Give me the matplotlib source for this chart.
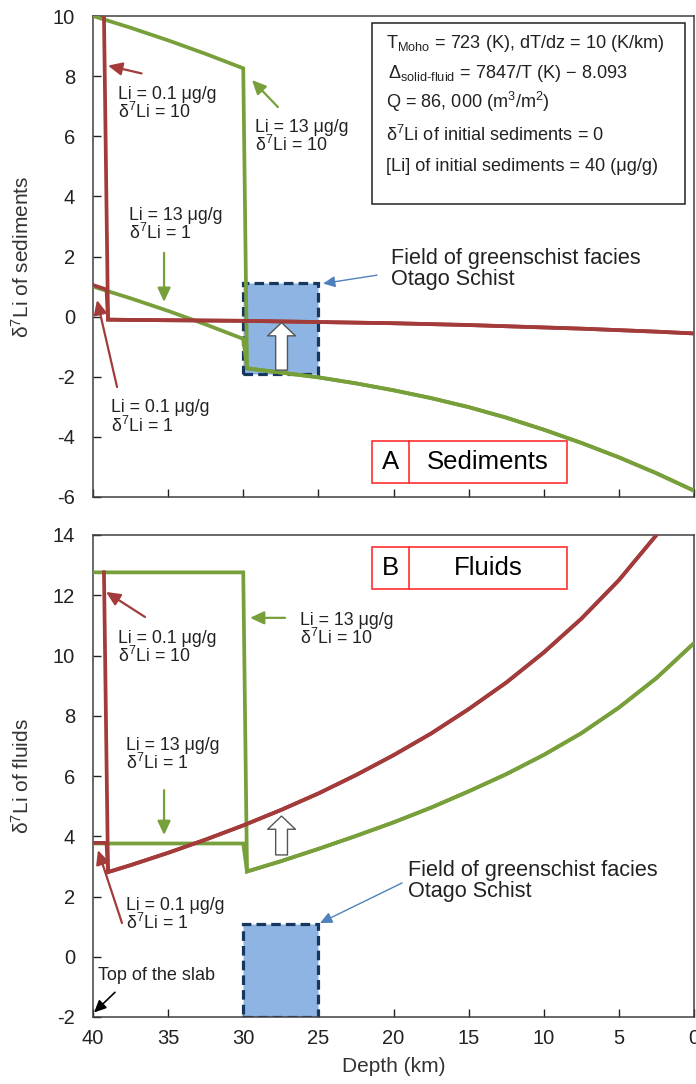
import matplotlib
matplotlib.use("Agg")
import matplotlib.pyplot as plt
from matplotlib.patches import Rectangle

plt.rcParams['font.family'] = ['Liberation Sans', 'DejaVu Sans']
plt.rcParams['mathtext.fontset'] = 'custom'
plt.rcParams['mathtext.rm'] = 'Liberation Sans'
plt.rcParams['mathtext.it'] = 'Liberation Sans:italic'
plt.rcParams['mathtext.bf'] = 'Liberation Sans:bold'
plt.rcParams['axes.unicode_minus'] = False

RED = '#A33B3B'
GREEN = '#77A03A'
BLUE_FILL = '#8DB4E2'
NAVY = '#17375E'
ARROW_BLUE = '#4F81BD'

# ---- data: depth (km) and d7Li values ----
# Li = 13 ug/g curves (green): before and after the 30 km step
green_head_depth = [40, 37.5, 35, 32.5, 30.0]
green_sed_head_d10 = [10.0, 9.61, 9.19, 8.74, 8.26]
green_sed_head_d1 = [1.0, 0.61, 0.19, -0.26, -0.74]
green_fluid_head_d10 = [12.76, 12.76, 12.76, 12.76, 12.76]
green_fluid_head_d1 = [3.76, 3.76, 3.76, 3.76, 3.76]

green_tail_depth = [29.75, 27.5, 25, 22.5, 20, 17.5, 15, 12.5, 10, 7.5, 5, 2.5, 0]
green_sed_tail = [-1.72, -1.86, -2.02, -2.22, -2.45, -2.71, -3.01, -3.36,
                  -3.76, -4.20, -4.68, -5.21, -5.79]
green_fluid_tail = [2.83, 3.17, 3.58, 4.01, 4.46, 4.95, 5.49, 6.06,
                    6.70, 7.42, 8.27, 9.25, 10.41]

# Li = 0.1 ug/g curves (red)
red_head_depth_d10 = [39.27]
red_sed_head_d10 = [10.0]
red_fluid_head_d10 = [12.76]
red_head_depth_d1 = [40, 39.1]
red_sed_head_d1 = [1.05, 0.90]
red_fluid_head_d1 = [3.78, 3.78]

red_sed_tail_depth = [39.0, 37.5, 35, 32.5, 30, 27.5, 25, 22.5, 20, 17.5, 15,
                      12.5, 10, 7.5, 5, 2.5, 0]
red_sed_tail = [-0.10, -0.11, -0.12, -0.13, -0.14, -0.16, -0.18, -0.20, -0.22,
                -0.25, -0.28, -0.32, -0.36, -0.40, -0.45, -0.50, -0.56]
red_fluid_tail_depth = [39.0, 37.5, 35, 32.5, 30, 27.5, 25, 22.5, 20, 17.5, 15,
                        12.5, 10, 7.5, 5, 2.5]
red_fluid_tail = [2.81, 3.04, 3.45, 3.89, 4.36, 4.87, 5.42, 6.03, 6.69, 7.41,
                  8.22, 9.10, 10.10, 11.22, 12.50, 14.0]

# greenschist facies field (Otago Schist)
field_depth = (30, 25)
field_sed = (-1.91, 1.13)
field_fluid = (-2.0, 1.1)

xticks = [40, 35, 30, 25, 20, 15, 10, 5, 0]
yticks_sed = [10, 8, 6, 4, 2, 0, -2, -4, -6]
yticks_fluid = [14, 12, 10, 8, 6, 4, 2, 0, -2]

LW = 2.7
TICK_FS = 14.5
AXLABEL_FS = 15
NOTE_FS = 12.8
FIELD_FS = 15.6
BOX_FS = 13.1
TAG_FS = 18.5

fig = plt.figure(figsize=(6.96, 10.84), dpi=100)
W, H = 696, 1084
ax1 = fig.add_axes([93 / W, 1 - 497 / H, 601 / W, 481 / H])
ax2 = fig.add_axes([93 / W, 1 - 1017 / H, 601 / W, 482 / H])


def style(ax, yticks, ylim, ylabel, show_x):
    ax.set_xlim(40, 0)
    ax.set_ylim(*ylim)
    ax.set_xticks(xticks)
    ax.set_yticks(yticks)
    for s in ax.spines.values():
        s.set_color('#404040')
        s.set_linewidth(1.1)
    ax.tick_params(axis='y', direction='in', length=6, width=1, pad=13,
                   labelsize=TICK_FS, colors='#222222')
    ax.tick_params(axis='x', direction='in', length=6, width=1, pad=8.5,
                   labelsize=TICK_FS, colors='#222222', labelbottom=show_x)
    ax.set_ylabel(ylabel, fontsize=AXLABEL_FS, color='#333333')
    ax.yaxis.set_label_coords(-0.10, 0.5)


def arrow(ax, tail, head, color, lw=1.6, scale=14):
    ax.annotate('', xy=head, xytext=tail,
                arrowprops=dict(arrowstyle='-|>,head_length=0.6,head_width=0.28',
                                color=color, lw=lw, mutation_scale=scale,
                                shrinkA=0, shrinkB=0))


def hollow_arrow(ax, x, y0, y1):
    ax.annotate('', xy=(x, y1), xytext=(x, y0),
                arrowprops=dict(arrowstyle='simple,head_length=0.95,head_width=2.0,tail_width=0.85',
                                mutation_scale=10, fc='white', ec='#555555', lw=1,
                                shrinkA=0, shrinkB=0), zorder=6)


def label(ax, x, y, s, size=NOTE_FS, ls=0.95):
    ax.text(x, y, s, fontsize=size, ha='left', va='center', color='#222222',
            linespacing=ls)


def field(ax, yr):
    rect = Rectangle((field_depth[0], yr[0]), field_depth[1] - field_depth[0],
                     yr[1] - yr[0], facecolor=BLUE_FILL, edgecolor=NAVY,
                     lw=2.3, linestyle=(0, (3, 1.6)), zorder=2)
    ax.add_patch(rect)


def panel_tag(ax, y0, y1, letter, word):
    ax.add_patch(Rectangle((0.464, y0), 0.789 - 0.464, y1 - y0, transform=ax.transAxes,
                           fill=False, ec='#FF3030', lw=1.2, zorder=7))
    ax.plot([0.526, 0.526], [y0, y1], transform=ax.transAxes, color='#FF3030',
            lw=1.2, zorder=7)
    yc = (y0 + y1) / 2
    ax.text(0.495, yc, letter, transform=ax.transAxes, fontsize=TAG_FS, ha='center',
            va='center', zorder=8)
    ax.text(0.657, yc, word, transform=ax.transAxes, fontsize=TAG_FS, ha='center',
            va='center', zorder=8)


# ---------------- A: sediments ----------------
style(ax1, yticks_sed, (-6, 10), 'δ$^{7}$Li of sediments', False)
field(ax1, field_sed)

ax1.plot(green_head_depth + green_tail_depth, green_sed_head_d10 + green_sed_tail,
         color=GREEN, lw=LW, zorder=3, solid_joinstyle='miter')
ax1.plot(green_head_depth + green_tail_depth, green_sed_head_d1 + green_sed_tail,
         color=GREEN, lw=LW, zorder=3, solid_joinstyle='miter')
ax1.plot(red_head_depth_d10 + red_sed_tail_depth, red_sed_head_d10 + red_sed_tail,
         color=RED, lw=LW, zorder=4, solid_joinstyle='miter')
ax1.plot(red_head_depth_d1 + red_sed_tail_depth, red_sed_head_d1 + red_sed_tail,
         color=RED, lw=LW, zorder=4, solid_joinstyle='miter')

hollow_arrow(ax1, 27.45, -1.78, -0.2)

label(ax1, 38.34, 7.07, 'Li = 0.1 μg/g\nδ$^{7}$Li = 10')
arrow(ax1, (36.77, 8.09), (39.0, 8.35), RED)
label(ax1, 29.22, 5.97, 'Li = 13 μg/g\nδ$^{7}$Li = 10')
arrow(ax1, (27.69, 6.97), (29.42, 7.87), GREEN)
label(ax1, 37.6, 3.05, 'Li = 13 μg/g\nδ$^{7}$Li = 1')
arrow(ax1, (35.27, 2.12), (35.27, 0.49), GREEN)
label(ax1, 38.80, -3.36, 'Li = 0.1 μg/g\nδ$^{7}$Li = 1')
arrow(ax1, (38.40, -2.34), (39.73, 0.55), RED)
label(ax1, 20.17, 1.58, 'Field of greenschist facies\nOtago Schist', size=FIELD_FS, ls=1.0)
arrow(ax1, (21.10, 1.38), (24.69, 1.10), ARROW_BLUE, lw=1.0, scale=12)

# model parameters box
ax1.add_patch(Rectangle((0.464, 0.609), 0.521, 0.376, transform=ax1.transAxes,
                        facecolor='white', edgecolor='#222222', lw=1.1, zorder=5))
params = [
    (0.4875, 0.943, 'T$_{\\mathregular{Moho}}$ = 723 (K), dT/dz = 10 (K/km)'),
    (0.491, 0.881, 'Δ$_{\\mathregular{solid\u2010fluid}}$ = 7847/T (K) \u2212 8.093'),
    (0.4875, 0.822, 'Q = 86, 000 (m$^{3}$/m$^{2}$)'),
    (0.4875, 0.753, 'δ$^{7}$Li of initial sediments = 0'),
    (0.4875, 0.687, '[Li] of initial sediments = 40 (μg/g)'),
]
for x, y, s in params:
    ax1.text(x, y, s, transform=ax1.transAxes, fontsize=BOX_FS, ha='left',
             va='center', color='#222222', zorder=6)

panel_tag(ax1, 0.029, 0.116, 'A', 'Sediments')

# ---------------- B: fluids ----------------
style(ax2, yticks_fluid, (-2, 14), 'δ$^{7}$Li of fluids', True)
ax2.set_xlabel('Depth (km)', fontsize=AXLABEL_FS, color='#333333')
ax2.xaxis.set_label_coords(0.5, -0.084)
field(ax2, field_fluid)

ax2.plot(green_head_depth + green_tail_depth, green_fluid_head_d10 + green_fluid_tail,
         color=GREEN, lw=LW, zorder=3, solid_joinstyle='miter')
ax2.plot(green_head_depth + green_tail_depth, green_fluid_head_d1 + green_fluid_tail,
         color=GREEN, lw=LW, zorder=3, solid_joinstyle='miter')
ax2.plot(red_head_depth_d10 + red_fluid_tail_depth, red_fluid_head_d10 + red_fluid_tail,
         color=RED, lw=LW, zorder=4, solid_joinstyle='miter')
ax2.plot(red_head_depth_d1 + red_fluid_tail_depth, red_fluid_head_d1 + red_fluid_tail,
         color=RED, lw=LW, zorder=4, solid_joinstyle='miter')

hollow_arrow(ax2, 27.45, 3.38, 4.67)

label(ax2, 38.34, 10.25, 'Li = 0.1 μg/g\nδ$^{7}$Li = 10')
arrow(ax2, (36.54, 11.28), (39.13, 12.11), RED)
label(ax2, 26.22, 10.85, 'Li = 13 μg/g\nδ$^{7}$Li = 10')
arrow(ax2, (27.22, 11.25), (29.55, 11.25), GREEN)
label(ax2, 37.80, 6.70, 'Li = 13 μg/g\nδ$^{7}$Li = 1')
arrow(ax2, (35.27, 5.53), (35.27, 4.04), GREEN)
label(ax2, 37.80, 1.38, 'Li = 0.1 μg/g\nδ$^{7}$Li = 1')
arrow(ax2, (38.07, 1.12), (39.67, 3.54), RED)
label(ax2, 19.04, 2.53, 'Field of greenschist facies\nOtago Schist', size=FIELD_FS, ls=1.0)
arrow(ax2, (19.43, 2.45), (24.89, 1.12), ARROW_BLUE, lw=1.0, scale=12)
ax2.text(39.67, -0.61, 'Top of the slab', fontsize=13, ha='left', va='center',
         color='#222222')
arrow(ax2, (38.54, -1.18), (39.93, -1.85), 'black', lw=1.2, scale=12)

panel_tag(ax2, 0.888, 0.975, 'B', 'Fluids')

fig.savefig('out.png', dpi=100)
